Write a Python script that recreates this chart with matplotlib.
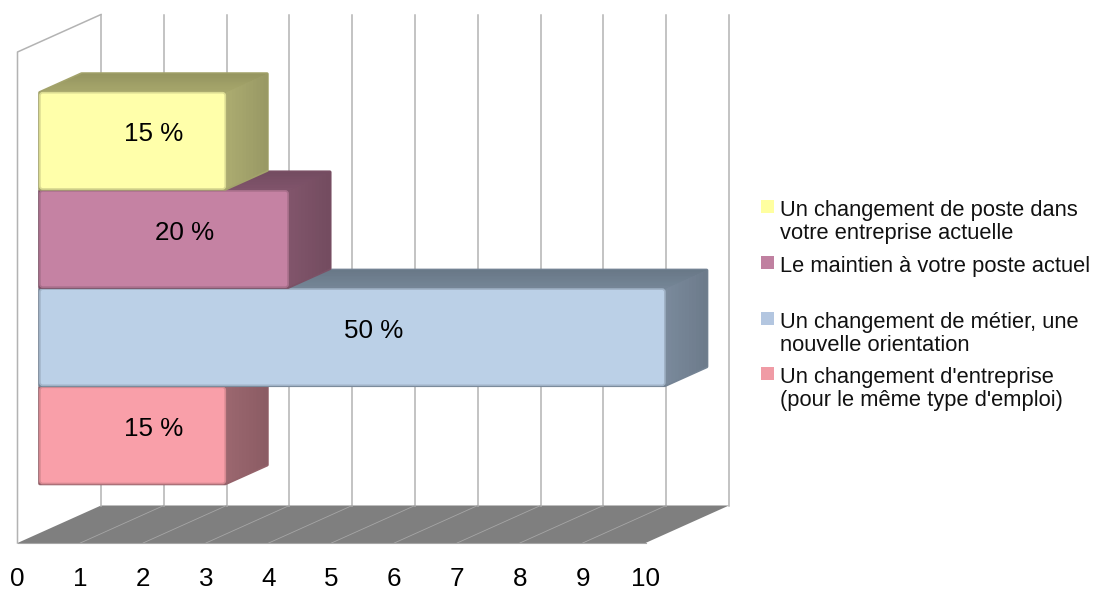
import matplotlib
matplotlib.use('Agg')
import matplotlib.pyplot as plt
from matplotlib.patches import Polygon, Rectangle, FancyBboxPatch

plt.rcParams['font.family'] = ['Liberation Sans', 'DejaVu Sans']

# bottom to top, same order as they get painted
lengths = [3, 10, 4, 3]
bar_labels = ['15 %', '50 %', '20 %', '15 %']
categories = [1, 2, 3, 4]
front_colors = ['#f99fa9', '#bbd0e7', '#c582a3', '#ffffaa']
top_colors = ['#94626a', '#6f7f8f', '#7a5066', '#9e9e66']
side_colors = ['#94626a', '#748394', '#7b5166', '#a3a36b']
ticks = [0, 1, 2, 3, 4, 5, 6, 7, 8, 9, 10]

legend_labels = ['Un changement de poste dans\nvotre entreprise actuelle',
                 'Le maintien à votre poste actuel',
                 'Un changement de métier, une\nnouvelle orientation',
                 "Un changement d'entreprise\n(pour le même type d'emploi)"]
legend_colors = ['#ffffa0', '#c080a0', '#b3c6e0', '#f09ba5']
legend_y = [200, 256, 312, 367]

W, H = 1095, 590
DX = 83.5 / 62.8   # depth of the box in x units
DY = 37.5 / 98.2   # depth of the box in y units
BAR_W = 0.98
INSET = 0.024      # bars sit a hair inside their value


def shade(c, f):
    r, g, b = matplotlib.colors.to_rgb(c)
    return (min(r * f, 1), min(g * f, 1), min(b * f, 1))


def at(x, y, d):
    # d = 0 front of the box, d = 1 back wall
    return (x + d * DX, y + d * DY)


fig = plt.figure(figsize=(W / 100, H / 100), dpi=100)
ax = fig.add_axes([17.5 / W, (H - 543) / H, 628 / W, 491 / H])
ax.set_xlim(0, 10)
ax.set_ylim(0, 5)
for s in ax.spines.values():
    s.set_visible(False)
ax.set_yticks([])
ax.set_xticks(ticks)
ax.tick_params(axis='x', length=0, pad=17.5, labelsize=18.7, labelcolor='black')

# floor
ax.add_patch(Polygon([at(0, 0, 0), at(10, 0, 0), at(10, 0, 1), at(0, 0, 1)],
                     closed=True, fc='#7f7f7f', ec='none', clip_on=False, zorder=1))

grid = '#b3b3b3'
for t in ticks:
    xb, yb = at(t, 0, 1)
    xt, yt = at(t, 5, 1)
    ax.plot([xb, xt], [yb, yt], color=grid, lw=1.1, clip_on=False, zorder=1.5)
    if 0 < t < 10:
        xf, yf = at(t, 0, 0)
        ax.plot([xf, xb], [yf, yb], color='#a6a6a6', lw=0.6, clip_on=False, zorder=1.5)

# left wall
ax.plot([0, 0, at(0, 5, 1)[0]], [0, 5, at(0, 5, 1)[1]], color=grid, lw=1.1,
        clip_on=False, zorder=1.5)
ax.plot([0, 10], [0, 0], color='#a6a6a6', lw=0.8, clip_on=False, zorder=1.5)

# bars
z = 3
for n, cat, lab, fc, tc, sc in zip(lengths, categories, bar_labels, front_colors,
                                   top_colors, side_colors):
    x0 = INSET
    x1 = n - INSET
    y0 = cat - BAR_W / 2
    y1 = cat + BAR_W / 2

    # silhouette first so the outer corners come out round
    outline = [at(x0, y1, .25), at(x0, y1, .75), at(x1, y1, .75), at(x1, y0, .75),
               at(x1, y0, .25), at(x0, y0, .25)]
    ax.add_patch(Polygon(outline, closed=True, fc=sc, ec=sc, lw=2.5, joinstyle='round',
                         clip_on=False, zorder=z))

    # top face, a bit darker to the back
    steps = 12
    for i in range(steps):
        a = .25 + .5 * i / steps
        b = .25 + .5 * (i + 1) / steps + .01
        c = shade(tc, 1.06 - .12 * i / steps)
        ax.add_patch(Polygon([at(x0, y1, a), at(x1, y1, a), at(x1, y1, b), at(x0, y1, b)],
                             closed=True, fc=c, ec='none', clip_on=False, zorder=z))
    # side face, a bit darker to the right
    for i in range(steps):
        a = .25 + .5 * i / steps
        b = .25 + .5 * (i + 1) / steps + .01
        c = shade(sc, 1.05 - .12 * i / steps)
        ax.add_patch(Polygon([at(x1, y0, a), at(x1, y0, b), at(x1, y1, b), at(x1, y1, a)],
                             closed=True, fc=c, ec='none', clip_on=False, zorder=z))

    # front face
    fx, fy = at(x0, y0, .25)
    ax.add_patch(FancyBboxPatch((fx, fy), x1 - x0, y1 - y0,
                                boxstyle='round,pad=0,rounding_size=0.045',
                                mutation_aspect=62.8 / 98.2,
                                fc=fc, ec=shade(fc, .86), lw=1.2,
                                clip_on=False, zorder=z + .1))

    xt, yt = at(n / 2, cat - .03, .5)
    ax.text(xt, yt, lab, ha='center', va='center', fontsize=18.7, color='black',
            clip_on=False, zorder=z + .2)
    z += 1

# legend
for lab, col, y in zip(legend_labels, legend_colors, legend_y):
    fig.patches.append(Rectangle((761 / W, 1 - (y + 13) / H), 13 / W, 13 / H, fc=col, ec='none',
                                 transform=fig.transFigure, figure=fig))
    fig.text(780.5 / W, 1 - y / H, lab, ha='left', va='top', fontsize=15.75,
             color='#111111', linespacing=1.14)

fig.savefig('out.png', dpi=100)
